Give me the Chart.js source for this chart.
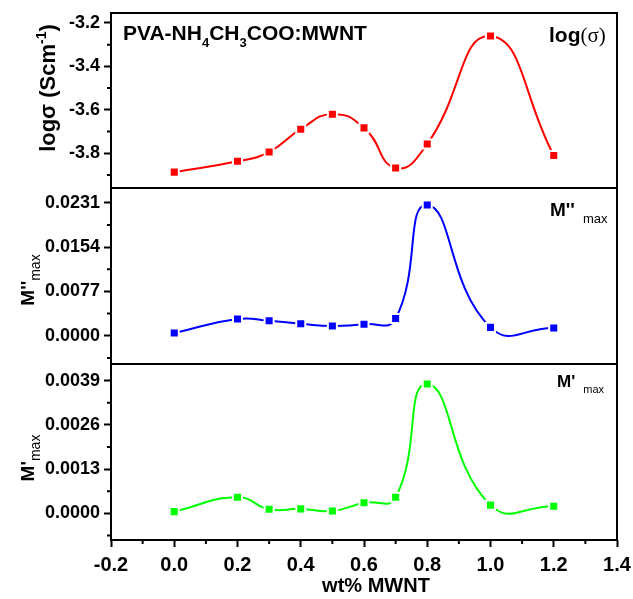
<!DOCTYPE html>
<html>
<head>
<meta charset="utf-8">
<script src="https://cdn.jsdelivr.net/npm/chart.js@4.4.1/dist/chart.umd.min.js"></script>
<style>
    body { margin: 0; background: #fff; }
    #wrap { position: relative; width: 633px; height: 599px; overflow: hidden;
            font-family: 'Liberation Sans', Arial, sans-serif; color: #000; }
    canvas { position: absolute; left: 0; }
    .lbl { position: absolute; white-space: nowrap; line-height: 1; font-weight: bold; }
    .sub { position: relative; font-weight: normal; }
    .rot { position: absolute; white-space: nowrap; line-height: 1; font-weight: bold;
           transform: translate(-50%, -50%) rotate(-90deg); }
</style>
</head>
<body>
<div id="wrap">
    <canvas id="sigma-chart" width="633" height="190" style="top:0"></canvas>
    <canvas id="mpp-chart" width="633" height="179" style="top:187px"></canvas>
    <canvas id="mp-chart" width="633" height="236" style="top:363px"></canvas>

    <div class="lbl" style="left:123px; top:22px; font-size:21px;">PVA-NH<span class="sub" style="font-size:13px; top:7px; font-weight:bold;">4</span>CH<span class="sub" style="font-size:13px; top:7px; font-weight:bold;">3</span>COO:MWNT</div>
    <div class="lbl" style="left:549px; top:24px; font-size:21px;">log<span style="font-family:'Liberation Serif', serif; font-weight:normal;">(σ)</span></div>
    <div class="lbl" style="left:550px; top:200px; font-size:19px;">M''<span class="sub" style="font-size:13px; top:7px; margin-left:8px;">max</span></div>
    <div class="lbl" style="left:557px; top:373px; font-size:17px;">M'<span class="sub" style="font-size:11px; top:6px; margin-left:8px;">max</span></div>

    <div class="rot" style="left:48px; top:88px; font-size:22px;">logσ (Scm<span class="sub" style="font-size:14px; top:-9px; font-weight:bold;">-1</span>)</div>
    <div class="rot" style="left:27px; top:280px; font-size:19px;">M''<span class="sub" style="font-size:14px; top:6px;">max</span></div>
    <div class="rot" style="left:27px; top:458px; font-size:19px;">M'<span class="sub" style="font-size:14px; top:6px;">max</span></div>

    <div class="lbl" style="left:376px; top:575px; font-size:20px; transform:translateX(-50%);">wt% MWNT</div>
</div>

<script>
// wt% MWNT (x values)
const wtMWNT = [0, 0.2, 0.3, 0.4, 0.5, 0.6, 0.7, 0.8, 1.0, 1.2];

// series
const logSigma = [-3.887, -3.837, -3.794, -3.689, -3.62, -3.683, -3.868, -3.757, -3.26, -3.81];
const mDoublePrimeMax = [0.00047, 0.0029, 0.0026, 0.0021, 0.0017, 0.0020, 0.0030, 0.0227, 0.00146, 0.00135];
const mPrimeMax = [0.00005, 0.00047, 0.00012, 0.00013, 0.00007, 0.00031, 0.00047, 0.0038, 0.00024, 0.00021];

// tick values
const xTicks = [-0.2, 0, 0.2, 0.4, 0.6, 0.8, 1.0, 1.2, 1.4];
const xMinor = [-0.1, 0.1, 0.3, 0.5, 0.7, 0.9, 1.1, 1.3];
const sigmaTicks = [-3.8, -3.6, -3.4, -3.2];
const sigmaMinor = [-3.9, -3.7, -3.5, -3.3];
const mppTicks = [0, 0.0077, 0.0154, 0.0231];
const mppMinor = [-0.00385, 0.00385, 0.01155, 0.01925];
const mpTicks = [0, 0.0013, 0.0026, 0.0039];
const mpMinor = [-0.00065, 0.00065, 0.00195, 0.00325];

const FONT = "'Liberation Sans', Arial, sans-serif";

// frame around the plot area + short minor ticks
const framePlugin = {
    id: 'frame',
    afterDraw(chart, args, opts) {
        const { ctx, chartArea: a } = chart;
        ctx.save();
        ctx.strokeStyle = '#000';
        ctx.lineWidth = 2;
        ctx.strokeRect(a.left, a.top, a.right - a.left, a.bottom - a.top);
        ctx.beginPath();
        (opts.yMinor || []).forEach(v => {
            const y = chart.scales.y.getPixelForValue(v);
            ctx.moveTo(a.left - 4, y);
            ctx.lineTo(a.left, y);
        });
        (opts.xMinor || []).forEach(v => {
            const x = chart.scales.x.getPixelForValue(v);
            ctx.moveTo(x, a.bottom);
            ctx.lineTo(x, a.bottom + 4);
        });
        ctx.stroke();
        ctx.restore();
    }
};

function makePanel(id, values, color, yMin, yMax, yTicks, yMinor, digits, showX, padding) {
    const canvas = document.getElementById(id);
    return new Chart(canvas.getContext('2d'), {
        type: 'line',
        data: {
            datasets: [{
                data: wtMWNT.map((x, i) => ({ x: x, y: values[i] })),
                borderColor: color,
                borderWidth: 2,
                tension: 0.5,
                pointStyle: 'rect',
                pointRadius: 6.4,
                pointBackgroundColor: color,
                pointBorderColor: '#fff',
                pointBorderWidth: 2
            }]
        },
        plugins: [framePlugin],
        options: {
            responsive: false,
            animation: false,
            layout: { padding: padding, autoPadding: false },
            scales: {
                x: {
                    type: 'linear',
                    display: showX,
                    min: -0.2,
                    max: 1.4,
                    afterBuildTicks: s => { s.ticks = xTicks.map(v => ({ value: v })); },
                    afterFit: s => {
                        s.height = showX ? 59 : 0;
                        s.paddingLeft = 0;
                        s.paddingRight = 0;
                    },
                    border: { display: false },
                    grid: { display: true, drawOnChartArea: false, drawTicks: true, tickLength: 7, tickWidth: 2, tickColor: '#000' },
                    ticks: {
                        color: '#000',
                        padding: 6,
                        maxRotation: 0,
                        autoSkip: false,
                        font: { family: FONT, size: 20, weight: 'bold' },
                        callback: v => Number(v).toFixed(1)
                    }
                },
                y: {
                    type: 'linear',
                    min: yMin,
                    max: yMax,
                    afterBuildTicks: s => { s.ticks = yTicks.map(v => ({ value: v })); },
                    afterFit: s => {
                        s.width = 111;
                        s.paddingTop = 0;
                        s.paddingBottom = 0;
                    },
                    border: { display: false },
                    grid: { display: true, drawOnChartArea: false, drawTicks: true, tickLength: 7, tickWidth: 2, tickColor: '#000' },
                    ticks: {
                        color: '#000',
                        padding: 4,
                        autoSkip: false,
                        font: { family: FONT, size: 18, weight: 'bold' },
                        callback: v => Number(v).toFixed(digits)
                    }
                }
            },
            plugins: {
                legend: { display: false },
                tooltip: { enabled: false },
                frame: { yMinor: yMinor, xMinor: showX ? xMinor : [] }
            }
        }
    });
}

makePanel('sigma-chart', logSigma, '#ff0000', -3.96, -3.154, sigmaTicks, sigmaMinor, 1, false,
    { top: 13, right: 16, bottom: 2, left: 0 });
makePanel('mpp-chart', mDoublePrimeMax, '#0000ff', -0.0049, 0.02567, mppTicks, mppMinor, 4, false,
    { top: 1, right: 16, bottom: 2, left: 0 });
makePanel('mp-chart', mPrimeMax, '#00ff00', -0.000785, 0.00439, mpTicks, mpMinor, 4, true,
    { top: 1, right: 16, bottom: 0, left: 0 });
</script>
</body>
</html>
